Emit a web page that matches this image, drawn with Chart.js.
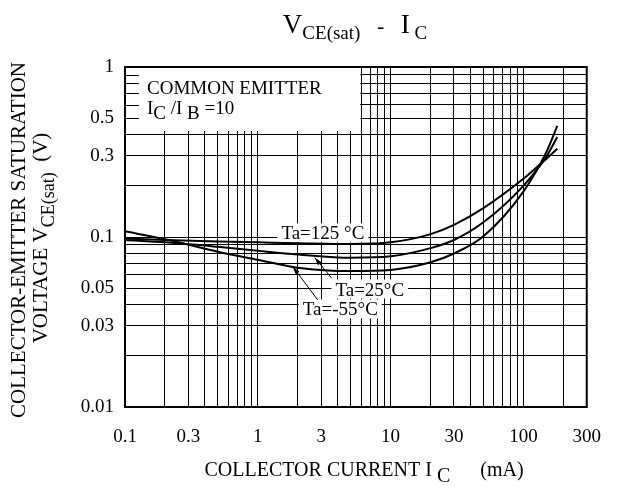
<!DOCTYPE html>
<html>
<head>
<meta charset="utf-8">
<script src="https://cdn.jsdelivr.net/npm/chart.js@4/dist/chart.umd.min.js"></script>
<style>
html, body { margin: 0; padding: 0; background: #fff; }
</style>
</head>
<body>
<canvas id="grafico" width="620" height="492"></canvas>
<script>
// collector current (mA) and VCE(sat) (V)
const corrente = [0.1, 0.2, 0.5, 1, 2, 5, 10, 20, 30, 50, 100, 150, 180]
const vce125 = [0.098, 0.096, 0.094, 0.093, 0.092, 0.091, 0.093, 0.104, 0.118, 0.148, 0.22, 0.29, 0.33]
const vce25 = [0.096, 0.093, 0.0875, 0.083, 0.079, 0.0755, 0.077, 0.086, 0.096, 0.122, 0.20, 0.30, 0.387]
const vceM55 = [0.108, 0.097, 0.082, 0.0735, 0.066, 0.063, 0.064, 0.071, 0.08, 0.101, 0.185, 0.32, 0.45]

const rotulosX = [0.1, 0.3, 1, 3, 10, 30, 100, 300]
const rotulosY = [0.01, 0.03, 0.05, 0.1, 0.3, 0.5, 1]

// grid lines at 1..9 of every decade
const gradeLog = (min, max) => {
    const vals = []
    for (let e = Math.floor(Math.log10(min)); e <= Math.ceil(Math.log10(max)); e++) {
        for (let m = 1; m <= 9; m++) {
            const v = Number((m * Math.pow(10, e)).toPrecision(3))
            if (v >= min - 1e-9 && v <= max + 1e-9) vals.push(v)
        }
    }
    return vals
}
const gradeX = gradeLog(0.1, 300)
const gradeY = gradeLog(0.01, 1)

const serif = '"Liberation Serif", "Times New Roman", serif'

// labels on the curves, placed in data units (mA, V)
const rotulosCurvas = [
    { texto: 'Ta=125 °C', i: 3.09, v: 0.105 },
    { texto: 'Ta=25°C', i: 6.97, v: 0.0491 },
    { texto: 'Ta=-55°C', i: 4.18, v: 0.0375 }
]
const setas = [
    { de: [3.59, 0.0574], para: [2.69, 0.0755] },
    { de: [2.83, 0.0426], para: [1.84, 0.0667] }
]
const caixaLegenda = [5.9, 0.42]

const temRotulo = (lista, v) => lista.some(r => Math.abs(r - v) / r < 1e-6)

// draws a line of text made of pieces [text, size, drop]
const textoComposto = (ctx, partes, x, y, alinhar) => {
    let largura = 0
    partes.forEach(p => {
        ctx.font = p[1] + 'px ' + serif
        largura += ctx.measureText(p[0]).width
    })
    let cx = alinhar === 'center' ? x - largura / 2 : x
    ctx.textAlign = 'left'
    ctx.textBaseline = 'alphabetic'
    partes.forEach(p => {
        ctx.font = p[1] + 'px ' + serif
        ctx.fillText(p[0], cx, y + (p[2] || 0))
        cx += ctx.measureText(p[0]).width
    })
}

const pluginTextos = {
    id: 'textos',
    beforeDatasetsDraw(chart) {
        const { ctx, chartArea, scales: { x, y } } = chart
        ctx.save()
        ctx.fillStyle = '#fff'
        const direita = x.getPixelForValue(caixaLegenda[0])
        const baixo = y.getPixelForValue(caixaLegenda[1])
        ctx.fillRect(chartArea.left + 1, chartArea.top + 1, direita - chartArea.left - 1, baixo - chartArea.top - 1)
        ctx.strokeStyle = '#000'
        ctx.lineWidth = 1
        y.ticks.forEach(t => {
            const py = Math.round(y.getPixelForValue(t.value)) + 0.5
            if (py > chartArea.top + 3 && py < baixo) {
                ctx.beginPath()
                ctx.moveTo(chartArea.left, py)
                ctx.lineTo(chartArea.left + 14, py)
                ctx.stroke()
            }
        })
        ctx.font = '19px ' + serif
        rotulosCurvas.forEach(r => {
            const w = ctx.measureText(r.texto).width
            const px = x.getPixelForValue(r.i)
            const py = y.getPixelForValue(r.v)
            ctx.fillRect(px - w / 2 - 4, py - 10, w + 8, 19)
        })
        ctx.restore()
    },
    afterDatasetsDraw(chart) {
        const { ctx, scales: { x, y } } = chart
        ctx.save()
        ctx.fillStyle = '#000'
        ctx.strokeStyle = '#000'
        ctx.font = '19px ' + serif
        ctx.textAlign = 'center'
        ctx.textBaseline = 'middle'
        rotulosCurvas.forEach(r => {
            ctx.fillText(r.texto, x.getPixelForValue(r.i), y.getPixelForValue(r.v) + 1)
        })
        ctx.lineWidth = 1
        setas.forEach(s => {
            const x0 = x.getPixelForValue(s.de[0]), y0 = y.getPixelForValue(s.de[1])
            const x1 = x.getPixelForValue(s.para[0]), y1 = y.getPixelForValue(s.para[1])
            ctx.beginPath()
            ctx.moveTo(x0, y0)
            ctx.lineTo(x1, y1)
            ctx.stroke()
            const ang = Math.atan2(y1 - y0, x1 - x0)
            ctx.beginPath()
            ctx.moveTo(x1, y1)
            ctx.lineTo(x1 - 8 * Math.cos(ang - 0.3), y1 - 8 * Math.sin(ang - 0.3))
            ctx.lineTo(x1 - 8 * Math.cos(ang + 0.3), y1 - 8 * Math.sin(ang + 0.3))
            ctx.closePath()
            ctx.fill()
        })
        // legend text
        ctx.textAlign = 'left'
        ctx.textBaseline = 'alphabetic'
        ctx.font = '19px ' + serif
        ctx.fillText('COMMON EMITTER', 147, 94)
        textoComposto(ctx, [['I', 19], ['C', 19, 5], [' /I', 19], [' B', 19, 5], [' =10', 19]], 147, 114)
        ctx.restore()
    },
    afterDraw(chart) {
        const { ctx, chartArea } = chart
        ctx.save()
        ctx.strokeStyle = '#000'
        ctx.lineWidth = 2
        ctx.strokeRect(chartArea.left, chartArea.top, chartArea.right - chartArea.left, chartArea.bottom - chartArea.top)
        ctx.fillStyle = '#000'
        // chart title
        textoComposto(ctx, [['V', 27], ['CE(sat)', 19, 6], ['   -   ', 22], ['I', 27], [' C', 19, 6]], 355, 33, 'center')
        // x axis title
        textoComposto(ctx, [['COLLECTOR CURRENT I', 20], [' C', 20, 6], ['      (mA)', 20]], 364, 476, 'center')
        // y axis title, two lines
        ctx.translate(0, 240)
        ctx.rotate(-Math.PI / 2)
        textoComposto(ctx, [['COLLECTOR-EMITTER SATURATION', 21]], 0, 25, 'center')
        textoComposto(ctx, [['VOLTAGE V', 21], ['CE(sat)', 18, 7], ['  (V)', 21]], 2, 47, 'center')
        ctx.restore()
    }
}

const serie = vals => corrente.map((c, i) => ({ x: c, y: vals[i] }))

const ctx = document.getElementById('grafico')
const grafico = new Chart(ctx, {
    type: 'line',
    data: {
        datasets: [
            { label: 'Ta=125°C', data: serie(vce125) },
            { label: 'Ta=25°C', data: serie(vce25) },
            { label: 'Ta=-55°C', data: serie(vceM55) }
        ].map(d => Object.assign(d, {
            borderColor: '#000',
            borderWidth: 2,
            pointRadius: 0,
            fill: false,
            cubicInterpolationMode: 'monotone'
        }))
    },
    options: {
        responsive: false,
        animation: false,
        devicePixelRatio: 1,
        layout: { padding: { top: 67, right: 33, left: 0, bottom: 0 } },
        plugins: { legend: { display: false }, tooltip: { enabled: false }, title: { display: false } },
        scales: {
            x: {
                type: 'logarithmic',
                min: 0.1,
                max: 300,
                afterBuildTicks: scale => { scale.ticks = gradeX.map(v => ({ value: v })) },
                afterFit: scale => { scale.height = 85 },
                grid: { color: '#000', lineWidth: 1, drawTicks: false },
                border: { color: '#000', width: 2 },
                ticks: {
                    autoSkip: false,
                    maxRotation: 0,
                    padding: 19,
                    color: '#000',
                    font: { family: serif, size: 19 },
                    callback: v => temRotulo(rotulosX, v) ? String(v) : ''
                }
            },
            y: {
                type: 'logarithmic',
                min: 0.01,
                max: 1,
                afterBuildTicks: scale => { scale.ticks = gradeY.map(v => ({ value: v })) },
                afterFit: scale => { scale.width = 125 },
                grid: { color: '#000', lineWidth: 1, drawTicks: false },
                border: { color: '#000', width: 2 },
                ticks: {
                    autoSkip: false,
                    padding: 11,
                    color: '#000',
                    font: { family: serif, size: 19 },
                    callback: v => temRotulo(rotulosY, v) ? String(v) : ''
                }
            }
        }
    },
    plugins: [pluginTextos]
})
</script>
</body>
</html>
